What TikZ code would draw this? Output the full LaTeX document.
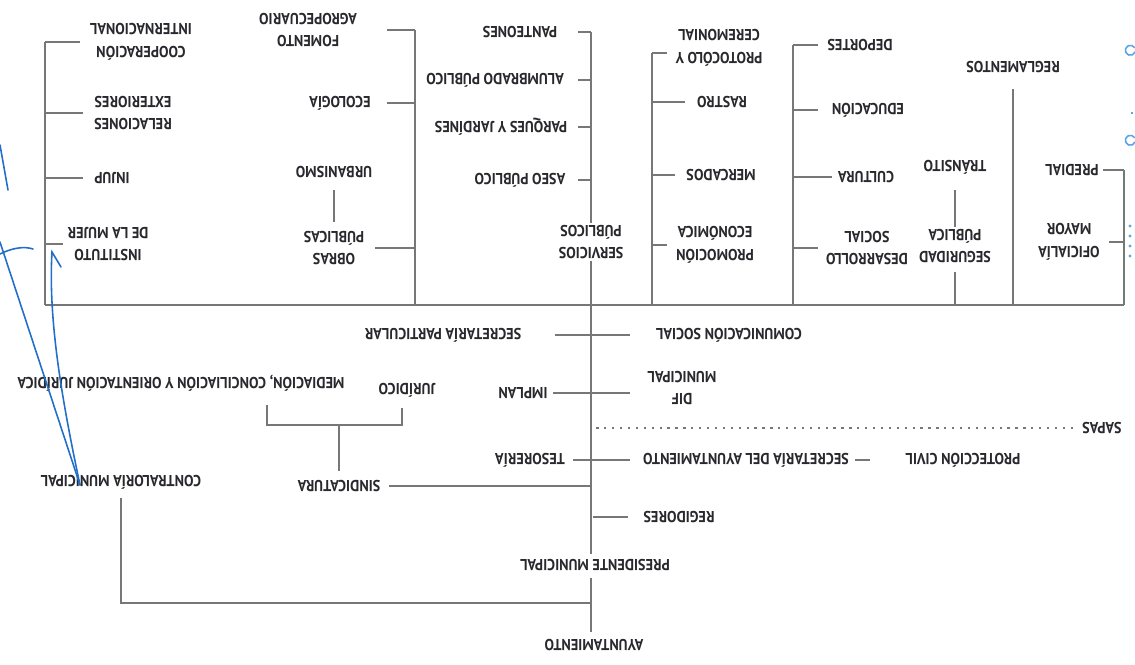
\documentclass[tikz,border=0pt]{standalone}
\usepackage{fontspec}
\setmainfont{PT Sans}
\usepackage{xcolor}
\usepackage{tikz}
\definecolor{linegray}{RGB}{118,120,120}
\definecolor{ink}{RGB}{40,40,45}
\definecolor{penblue}{RGB}{35,110,200}
\definecolor{lightpen}{RGB}{90,165,230}

\begin{document}
\begin{tikzpicture}[x=0.02cm,y=-0.02cm,
	bar/.style={draw=linegray,line width=1.6pt},
	lbl/.style={rotate=180,xscale=0.9,align=center,text=ink,inner sep=1pt,font=\fontsize{9}{13}\selectfont\bfseries},
	pen/.style={draw=penblue,line width=0.9pt,line cap=round},
	sapasline/.style={draw=linegray,line width=1.3pt,dash pattern=on 1.3pt off 3.2pt}]
	\useasboundingbox (0,0) rectangle (1135,665);

	% upper row, left to right
	\node[lbl] (coop) at (141,42) {COOPERACIÓN\\INTERNACIONAL};
	\node[lbl] (relext) at (133,113) {RELACIONES\\EXTERIORES};
	\node[lbl] (injup) at (112,178) {INJUP};
	\node[lbl] (mujer) at (108,244) {INSTITUTO\\DE LA MUJER};
	\node[lbl] (fomento) at (308,30) {FOMENTO\\AGROPECUARIO};
	\node[lbl] (ecologia) at (340,103) {ECOLOGÍA};
	\node[lbl] (urban) at (334,172) {URBANISMO};
	\node[lbl] (obras) at (334,248) {OBRAS\\PÚBLICAS};
	\node[lbl] (panteones) at (520,32) {PANTEONES};
	\node[lbl] (alumbrado) at (495,80) {ALUMBRADO PÚBLICO};
	\node[lbl] (parques) at (501,127) {PARQUES Y JARDÍNES};
	\node[lbl] (aseo) at (520,180) {ASEO PÚBLICO};
	\node[lbl] (serv) at (591,242) {SERVICIOS\\PÚBLICOS};
	\node[lbl] (protocolo) at (719,48) {PROTOCÓLO Y\\CEREMONIAL};
	\node[lbl] (rastro) at (722,102) {RASTRO};
	\node[lbl] (mercados) at (721,175) {MERCADOS};
	\node[lbl] (promocion) at (715,245) {PROMOCIÓN\\ECONÓMICA};
	\node[lbl] (deportes) at (860,45) {DEPORTES};
	\node[lbl] (educacion) at (868,110) {EDUCACIÓN};
	\node[lbl] (cultura) at (866,177) {CULTURA};
	\node[lbl] (desarrollo) at (867,248) {DESARROLLO\\SOCIAL};
	\node[lbl] (transito) at (955,167) {TRÁNSITO};
	\node[lbl] (seguridad) at (955,246) {SEGURIDAD\\PÚBLICA};
	\node[lbl] (reglamentos) at (1013,67) {REGLAMENTOS};
	\node[lbl] (predial) at (1072,170) {PREDIAL};
	\node[lbl] (oficialia) at (1069,242) {OFICIALÍA\\MAYOR};

	% lower part
	\node[lbl] (partic) at (443,335) {SECRETARÍA PARTICULAR};
	\node[lbl] (comsoc) at (729,335) {COMUNICACIÓN SOCIAL};
	\node[lbl] (implan) at (523,393) {IMPLAN};
	\node[lbl] (dif) at (682,388) {DIF\\MUNICIPAL};
	\node[lbl] (juridico) at (407,390) {JURÍDICO};
	\node[lbl] (mediacion) at (181,383) {MEDIACIÓN, CONCILIACIÓN Y ORIENTACIÓN JURÍDICA};
	\node[lbl] (sapas) at (1102,428) {SAPAS};
	\node[lbl] (tesoreria) at (530,460) {TESORERÍA};
	\node[lbl] (secayu) at (746,460) {SECRETARÍA DEL AYUNTAMIENTO};
	\node[lbl] (proteccion) at (963,460) {PROTECCIÓN CIVIL};
	\node[lbl] (sindicatura) at (339,486) {SINDICATURA};
	\node[lbl] (contraloria) at (121,482) {CONTRALORÍA MUNICIPAL};
	\node[lbl] (regidores) at (679,517) {REGIDORES};
	\node[lbl] (presidente) at (595,565) {PRESIDENTE MUNICIPAL};
	\node[lbl] (ayunt) at (594,645) {AYUNTAMIENTO};

	\coordinate (b1) at (45,305);
	\coordinate (b2) at (415,305);
	\coordinate (t) at (591,305);
	\coordinate (b4) at (652,305);
	\coordinate (b5) at (793,305);
	\coordinate (bR) at (1124,305);
	\coordinate (cb) at (591,603);

	% main line and the brackets on it
	\draw[bar] (b1) -- (bR);
	\draw[bar] (coop -| b1) -- (b1);
	\foreach \n/\l in {coop/35,relext/38,injup/38,mujer/18}
		\draw[bar] (\n -| b1) -- ++(\l,0);
	\draw[bar] (fomento -| b2) -- (b2);
	\foreach \n/\l in {fomento/28,ecologia/28,obras/40}
		\draw[bar] (\n -| b2) -- ++(-\l,0);
	\draw[bar,shorten <=6pt,shorten >=4pt] (urban) -- (obras);
	\draw[bar] (panteones -| t) -- (serv);
	\foreach \n in {panteones,alumbrado,parques,aseo}
		\draw[bar] (\n -| t) -- ++(-13,0);
	\draw[bar] (652,53) -- (b4);
	\draw[bar] (652,53) -- ++(15,0);
	\foreach \n/\l in {rastro/33,mercados/23,promocion/15}
		\draw[bar] (\n -| b4) -- ++(\l,0);
	\draw[bar] (deportes -| b5) -- (b5);
	\foreach \n/\l in {deportes/25,educacion/25,cultura/39,desarrollo/25}
		\draw[bar] (\n -| b5) -- ++(\l,0);
	\draw[bar,shorten <=8pt] (transito) -- (seguridad);
	\draw[bar,shorten <=4pt] (seguridad) -- (seguridad |- b1);
	\draw[bar,shorten <=8pt] (reglamentos) -- (reglamentos |- b1);
	\draw[bar] (bR) -- (predial -| bR);
	\draw[bar] (predial -| bR) -- ++(-21,0);
	\draw[bar] (oficialia -| bR) -- ++(-15,0);

	% trunk and offices
	\draw[bar,shorten >=2pt] (serv) -- (t |- presidente.south);
	\draw[bar,shorten <=3pt,shorten >=3pt] (presidente.north -| t) -- (ayunt.south -| t);
	\draw[bar] (partic -| t) ++(-36,0) -- ++(75,0);
	\draw[bar] (implan -| t) ++(-38,0) -- ++(77,0);
	\draw[bar] (tesoreria -| t) ++(-18,0) -- ++(57,0);
	\draw[bar] (proteccion) ++(-93,0) -- ++(-15,0);
	\draw[bar] (regidores -| t) ++(2,0) -- ++(35,0);
	\draw[bar,shorten >=4pt] (t |- sindicatura) -- (sindicatura);
	\draw[bar,shorten <=4pt] (sindicatura) -- (339,425);
	\draw[bar] (267,405) |- (402,425) -- (402,408);
	\draw[sapasline,shorten >=3pt] ([xshift=3pt]t |- sapas) -- (sapas);
	\draw[bar,shorten <=4pt] (contraloria) |- (cb);

	% pen marks on the scan
	\draw[pen] (80,485) -- (0,242);
	\draw[pen] (80,485) .. controls (62,400) and (48,320) .. (52,252) -- (61,267);
	\draw[pen] (0,145) -- (8,190);
	\draw[pen] (0,254) .. controls (12,248) and (24,246) .. (33,249);
	\draw[draw=lightpen,line width=0.9pt] (1135,52) arc (20:330:5);
	\draw[draw=lightpen,line width=0.9pt] (1135,142) arc (20:330:5);
	\draw[draw=lightpen,line width=0.9pt] (1131,113) -- (1133,113);
	\foreach \y in {226,236,246,256}
		\fill[lightpen] (1130,\y) circle (1.6);
\end{tikzpicture}
\end{document}
